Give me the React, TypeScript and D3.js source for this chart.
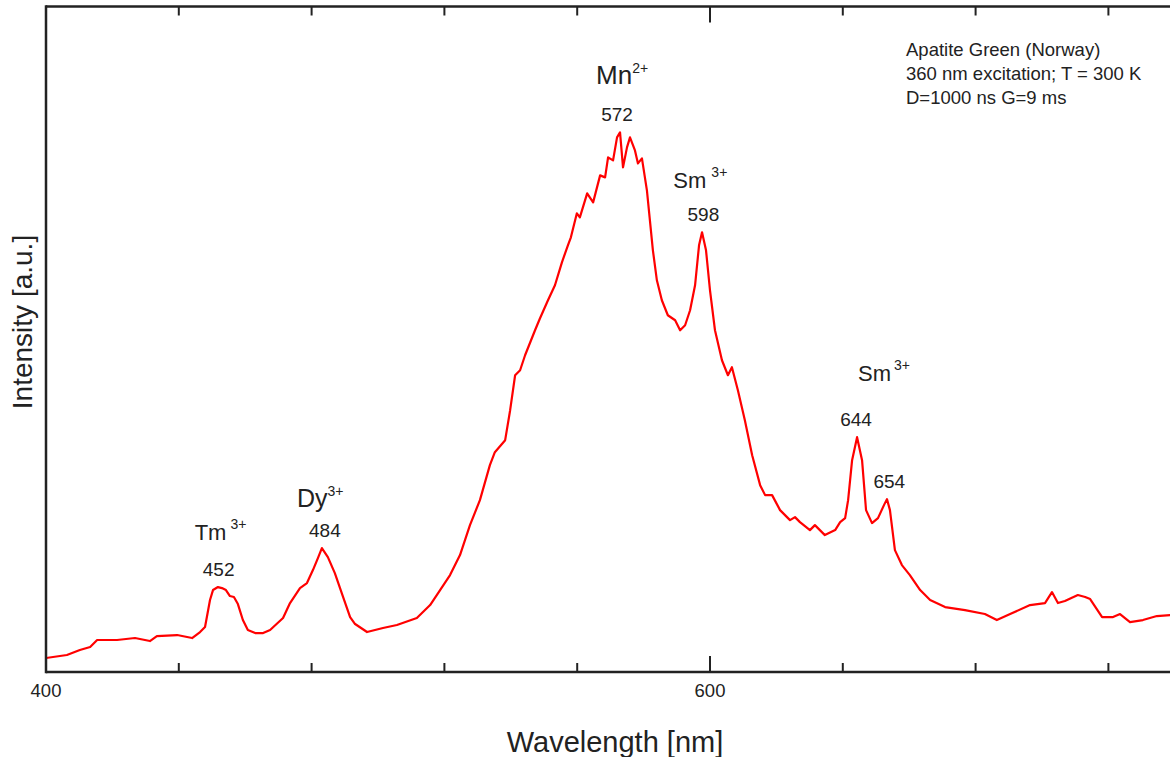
import React from 'react';
import * as d3 from 'd3';

// spectrum (intensity in arbitrary units)
const wavelength = [
  400.0, 406.3, 410.2, 413.3, 415.4, 421.4, 426.8, 431.3, 433.4, 439.5,
  444.0, 446.4, 447.9, 449.4, 450.3, 451.8, 453.0, 454.2, 455.4, 456.6,
  457.8, 459.3, 460.8, 463.0, 465.4, 467.5, 471.4, 473.5, 476.5, 478.6,
  480.4, 481.9, 483.1, 484.9, 487.0, 489.5, 491.6, 493.1, 496.7, 501.5,
  505.7, 511.7, 515.7, 518.7, 521.7, 524.7, 526.2, 527.7, 530.7, 533.7,
  535.2, 538.3, 539.8, 541.3, 542.8, 544.3, 547.3, 548.8, 551.2, 553.3,
  555.4, 557.2, 558.1, 559.9, 560.8, 563.0, 564.8, 566.9, 568.4, 569.3,
  570.8, 572.0, 572.9, 573.8, 575.0, 575.9, 577.4, 578.3, 579.5, 581.0,
  581.9, 582.8, 584.0, 585.5, 587.3, 589.5, 591.0, 592.5, 594.0, 595.5,
  596.7, 597.6, 598.8, 600.0, 601.5, 603.6, 605.4, 606.6, 608.4, 610.5,
  612.7, 615.1, 616.6, 618.7, 621.1, 624.1, 625.6, 627.1, 630.1, 631.6,
  634.6, 637.7, 639.2, 640.7, 641.6, 642.8, 644.3, 645.8, 647.0, 648.8,
  650.6, 652.4, 653.3, 654.2, 655.7, 657.8, 660.2, 663.3, 666.3, 670.8,
  676.8, 682.8, 686.4, 690.4, 696.4, 700.9, 703.0, 704.8, 706.9, 710.8,
  713.0, 714.5, 718.1, 721.4, 723.5, 726.5, 730.4, 734.6, 738.6,
];

const intensity = [
  14, 17, 22, 25, 32, 32, 34, 31, 36, 37,
  34, 40, 45, 72, 82, 85, 84, 82, 76, 75,
  68, 52, 42, 39, 39, 42, 54, 69, 84, 89,
  102, 114, 124, 115, 99, 75, 55, 48, 40, 44,
  47, 54, 67, 82, 97, 117, 132, 147, 172, 207,
  220, 232, 262, 297, 302, 317, 342, 354, 372, 387,
  410, 427, 435, 459, 455, 479, 470, 497, 495, 515,
  512, 535, 540, 505, 525, 535, 522, 509, 514, 482,
  452, 422, 392, 372, 357, 352, 342, 347, 362, 387,
  427, 440, 422, 382, 342, 312, 297, 305, 282, 252,
  217, 187, 177, 177, 162, 152, 155, 150, 142, 147,
  137, 142, 150, 154, 172, 212, 235, 212, 162, 149,
  154, 167, 173, 162, 122, 107, 97, 82, 72, 65,
  62, 58, 52, 58, 67, 69, 80, 69, 71, 77,
  75, 73, 55, 55, 58, 50, 52, 56, 57,
];

const minorTicks = [440, 480, 520, 560, 640, 680, 720];
const majorTicks = [600];
const tickLabels = [400, 600];

// peak positions (nm) and their intensity
const peakNm = [452, 484, 572, 598, 644, 654];
const peakHeight = [85, 124, 540, 440, 235, 173];

// ion labels: name, charge, nm the label sits over
const ionNames = ['Tm', 'Dy', 'Mn', 'Sm', 'Sm'];
const ionCharges = ['3+', '3+', '2+', '3+', '3+'];
const ionNm = [452, 484, 572, 598, 644];

const infoLines = [
  'Apatite Green (Norway)',
  '360 nm excitation; T = 300 K',
  'D=1000 ns G=9 ms',
];

const W = 1170;
const H = 757;
const FONT = '"Liberation Sans", Arial, sans-serif';

// label layout (pixels): ion text offset from peak x, baseline, superscript gap, sizes
const ionLayout = [
  { dx: -24, y: 540, gap: 4, size: 22, sup: 14 },
  { dx: -28, y: 507, gap: 0, size: 25, sup: 14 },
  { dx: -21, y: 84, gap: 0, size: 26, sup: 14 },
  { dx: -30, y: 188, gap: 5, size: 22, sup: 14 },
  { dx: 2, y: 381, gap: 3, size: 22, sup: 14 },
];

const App = () => {
  const left = 46;
  const top = 6.5;
  const bottom = 672;

  const x = d3.scaleLinear().domain([400, 600]).range([left, 710]);
  const y = d3.scaleLinear().domain([0, 666]).range([bottom, top]);

  const pts = wavelength.map((w, i) => [w, intensity[i]] as [number, number]);
  const line = d3.line<[number, number]>()
    .x(d => x(d[0]))
    .y(d => y(d[1]));

  const axisColor = '#222';
  const textColor = '#222';

  return (
    <svg width={W} height={H} style={{ position: 'absolute', left: 0, top: 0, background: '#fff' }}
      fontFamily={FONT}>
      <defs>
        <clipPath id="plot">
          <rect x={left} y={0} width={W - left} height={bottom} />
        </clipPath>
      </defs>
      <rect x={0} y={0} width={W} height={H} fill="#fff" />

      <path d={line(pts) || ''} fill="none" stroke="#ff0000" strokeWidth={2.2}
        strokeLinejoin="round" clipPath="url(#plot)" />

      {/* frame */}
      <line x1={left} x2={W} y1={top} y2={top} stroke={axisColor} strokeWidth={2.5} />
      <line x1={left} x2={W} y1={bottom} y2={bottom} stroke={axisColor} strokeWidth={2.5} />
      <line x1={left} x2={left} y1={top - 1.25} y2={bottom + 1.25} stroke={axisColor} strokeWidth={2.5} />

      {minorTicks.map(t => (
        <g key={'mi' + t}>
          <line x1={x(t)} x2={x(t)} y1={bottom} y2={bottom - 9} stroke={axisColor} strokeWidth={2} />
          <line x1={x(t)} x2={x(t)} y1={top} y2={top + 9} stroke={axisColor} strokeWidth={2} />
        </g>
      ))}
      {majorTicks.map(t => (
        <g key={'ma' + t}>
          <line x1={x(t)} x2={x(t)} y1={bottom} y2={bottom - 16} stroke={axisColor} strokeWidth={2} />
          <line x1={x(t)} x2={x(t)} y1={top} y2={top + 16} stroke={axisColor} strokeWidth={2} />
        </g>
      ))}
      {tickLabels.map(t => (
        <text key={'tl' + t} x={x(t)} y={697} textAnchor="middle" fontSize={18.5} fill={textColor}>
          {t}
        </text>
      ))}

      <text x={615} y={752} textAnchor="middle" fontSize={29} fill={textColor}>Wavelength [nm]</text>
      <text transform={`translate(32,${322}) rotate(-90)`} textAnchor="middle" fontSize={28} fill={textColor}>
        Intensity [a.u.]
      </text>

      {infoLines.map((s, i) => (
        <text key={s} x={906} y={56 + i * 24} fontSize={18.5} fill={textColor}>{s}</text>
      ))}

      {peakNm.map((p, i) => (
        <text key={'pk' + p} x={x(p)} y={y(peakHeight[i]) - 11} textAnchor="middle"
          fontSize={19} fill={textColor}>
          {p}
        </text>
      ))}

      {ionNames.map((n, i) => {
        const l = ionLayout[i];
        return (
          <text key={'ion' + i} x={x(ionNm[i]) + l.dx} y={l.y} fontSize={l.size} fill={textColor}>
            {n}
            <tspan dx={l.gap} dy={-11} fontSize={l.sup}>{ionCharges[i]}</tspan>
          </text>
        );
      })}
    </svg>
  );
};

export default App;
